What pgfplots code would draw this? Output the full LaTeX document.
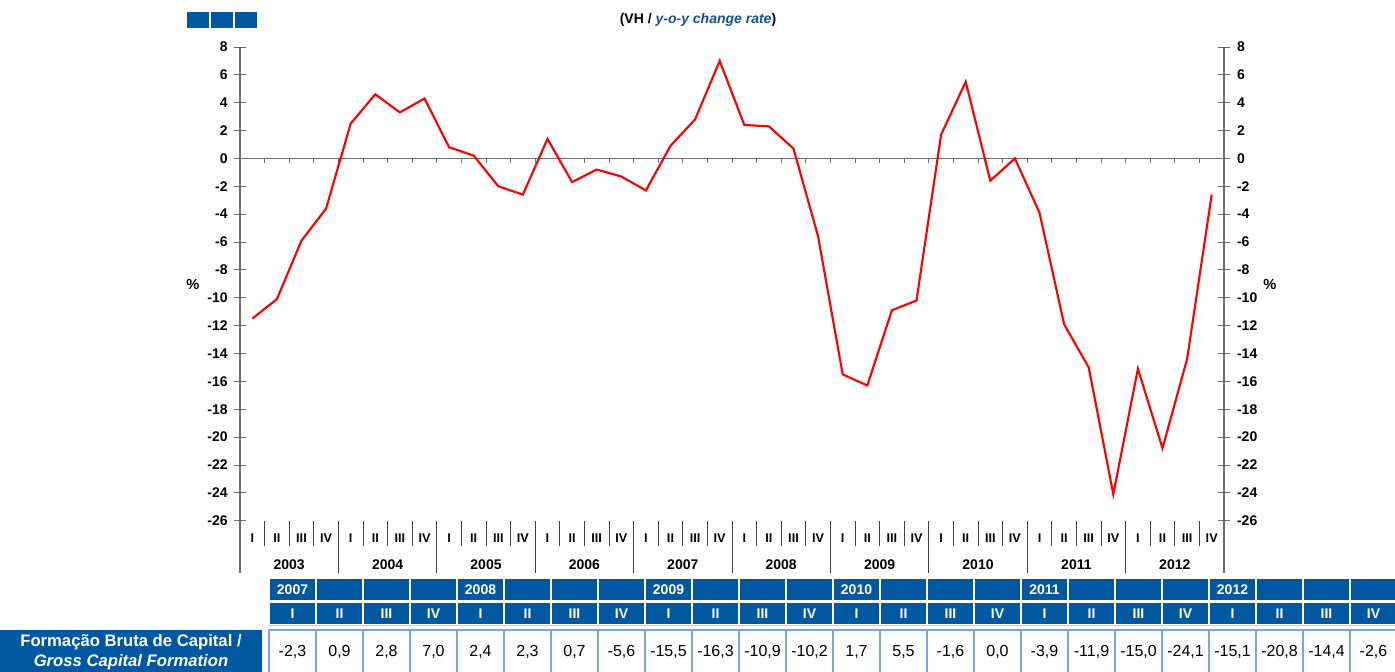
\documentclass[border=0pt]{standalone}
\usepackage{fontspec}
\setmainfont{Liberation Sans}
\usepackage{pgfplots}
\pgfplotsset{compat=1.18}
\definecolor{tblue}{RGB}{0,88,160}
\definecolor{lblue}{RGB}{125,165,220}
\definecolor{tblue2}{RGB}{20,80,150}
\definecolor{axgray}{RGB}{110,110,110}

\pgfplotsset{
  myax/.style={
    at={(180pt,-390.5pt)}, anchor=south west,
    width=738pt, height=355.3pt, scale only axis,
    xmin=-0.5, xmax=39.5, ymin=-26, ymax=8,
    axis x line=none,
    ytick={-26,-24,...,8},
    yticklabels={-26,-24,-22,-20,-18,-16,-14,-12,-10,-8,-6,-4,-2,0,2,4,6,8},
    tick align=center, major tick length=8.5pt,
    y axis line style={axgray, line width=0.8pt},
    ytick style={axgray, line width=0.6pt},
    clip=false,
  }
}

\begin{document}
\begin{tikzpicture}
\path[use as bounding box] (0,0) rectangle (1046.25pt,-503.25pt);

\begin{axis}[myax, axis y line*=left,
    yticklabel style={font=\bfseries\fontsize{10.5}{12}\selectfont, text=black, xshift=-1.5pt}]
  \draw[axgray, line width=0.8pt] (axis cs:-0.5,0) -- (axis cs:39.5,0);
  \pgfplotsinvokeforeach{0.5,1.5,...,38.5}{
    \draw[axgray, line width=0.6pt] (axis cs:#1,0) -- (axis cs:#1,-0.3);
  }
  \addplot[red, line width=1.6pt] coordinates {
    (0,-11.5) (1,-10.1) (2,-5.9) (3,-3.6)
    (4,2.5) (5,4.6) (6,3.3) (7,4.3)
    (8,0.8) (9,0.2) (10,-2.0) (11,-2.6)
    (12,1.4) (13,-1.7) (14,-0.8) (15,-1.3)
    (16,-2.3) (17,0.9) (18,2.8) (19,7.0)
    (20,2.4) (21,2.3) (22,0.7) (23,-5.6)
    (24,-15.5) (25,-16.3) (26,-10.9) (27,-10.2)
    (28,1.7) (29,5.5) (30,-1.6) (31,0.0)
    (32,-3.9) (33,-11.9) (34,-15.0) (35,-24.1)
    (36,-15.1) (37,-20.8) (38,-14.4) (39,-2.6)
  };
\end{axis}

\begin{axis}[myax, axis y line*=right,
    yticklabel style={font=\bfseries\fontsize{10.5}{12}\selectfont, text=black, xshift=2pt}]
\end{axis}

\begin{scope}[x=0.75pt,y=-0.75pt]
  % title
  \fill[tblue] (187,12) rectangle (209,28);
  \fill[tblue] (211,12) rectangle (233,28);
  \fill[tblue] (235,12) rectangle (257,28);
  \node[font=\bfseries\fontsize{10.5}{12}\selectfont] at (698,20)
    {(VH / {\color{tblue2}\itshape y-o-y change rate})};
  % percent labels
  \node[font=\bfseries\fontsize{11}{12}\selectfont] at (193,284) {\%};
  \node[font=\bfseries\fontsize{11}{12}\selectfont] at (1270,284) {\%};
  % axis extensions
  \draw[axgray, line width=0.8pt] (240,520) -- (240,573);
  \draw[axgray, line width=0.8pt] (1224,520) -- (1224,573);
  % separators
  \foreach \k in {1,...,39}{
    \pgfmathtruncatemacro{\m}{mod(\k,4)}
    \pgfmathsetmacro{\xx}{240+24.6*\k}
    \ifnum\m=0
      \draw[black!75, line width=0.6pt] (\xx,521) -- (\xx,573);
    \else
      \draw[black!75, line width=0.6pt] (\xx,521) -- (\xx,546);
    \fi
  }
  % quarter labels
  \foreach \j in {0,...,9}{
    \foreach \i/\r in {0/I,1/II,2/III,3/IV}{
      \pgfmathsetmacro{\xx}{240+24.6*(4*\j+\i+0.5)}
      \node[font=\bfseries\fontsize{9.5}{10}\selectfont] at (\xx,538) {\r};
    }
    \pgfmathsetmacro{\yx}{240+24.6*(4*\j+2)}
    \pgfmathtruncatemacro{\yr}{2003+\j}
    \node[font=\bfseries\fontsize{10.5}{12}\selectfont] at (\yx,565) {\yr};
  }
  % table header
  \foreach \k in {0,...,23}{
    \pgfmathsetmacro{\xa}{270+47*\k}
    \pgfmathsetmacro{\xb}{270+47*\k+45}
    \fill[tblue] (\xa,579) rectangle (\xb,600);
    \fill[tblue] (\xa,603) rectangle (\xb,624);
  }
  \foreach \j/\yr in {0/2007,1/2008,2/2009,3/2010,4/2011,5/2012}{
    \pgfmathsetmacro{\xx}{270+47*4*\j+22.5}
    \node[text=white, font=\bfseries\fontsize{10.5}{12}\selectfont] at (\xx,589.5) {\yr};
    \foreach \i/\r in {0/I,1/II,2/III,3/IV}{
      \pgfmathsetmacro{\qx}{270+47*(4*\j+\i)+22.5}
      \node[text=white, font=\bfseries\fontsize{10.5}{12}\selectfont] at (\qx,613.5) {\r};
    }
  }
  % data row
  \draw[black!20, line width=0.6pt] (268,625.5) -- (1395,625.5);
  \draw[lblue, line width=1.5pt] (268,629.5) -- (1395,629.5);
  \foreach \k in {0,...,24}{
    \pgfmathsetmacro{\xx}{268.5+47*\k}
    \draw[lblue, line width=1.5pt] (\xx,629) -- (\xx,672);
  }
  \foreach \v [count=\c from 0] in {{-2,3},{0,9},{2,8},{7,0},{2,4},{2,3},{0,7},{-5,6},{-15,5},{-16,3},{-10,9},{-10,2},{1,7},{5,5},{-1,6},{0,0},{-3,9},{-11,9},{-15,0},{-24,1},{-15,1},{-20,8},{-14,4},{-2,6}}{
    \pgfmathsetmacro{\xx}{270+47*\c+22.5}
    \node[font=\fontsize{12}{14}\selectfont] at (\xx,652) {\v};
  }
  % row label
  \fill[tblue] (0,630) rectangle (262,672);
  \node[text=white, font=\bfseries\fontsize{12.5}{14}\selectfont] at (131,642.5) {Formação Bruta de Capital /};
  \node[text=white, font=\bfseries\itshape\fontsize{12.5}{14}\selectfont] at (131,662) {Gross Capital Formation};
\end{scope}
\end{tikzpicture}
\end{document}
